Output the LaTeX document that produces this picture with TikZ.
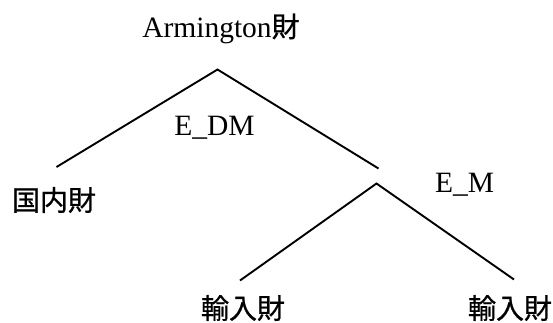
\documentclass[tikz,border=0pt]{standalone}
\usepackage{fontspec}
\setmainfont{Liberation Serif}
\newfontfamily\cjk[FakeBold=0.8]{Noto Sans CJK JP}
\begin{document}
\begin{tikzpicture}[x=1bp,y=-1bp,
  lbl/.style={inner sep=0pt,font=\fontsize{29.5bp}{33bp}\selectfont},
  cjklbl/.style={inner sep=0pt,font=\fontsize{28bp}{32bp}\selectfont\cjk},
  branch/.style={line width=1.9bp,line cap=butt,line join=miter}]
\useasboundingbox (0,0) rectangle (553,322);
\node[lbl,anchor=base] (top) at (221,37) {Armington{\fontsize{28bp}{32bp}\selectfont\cjk 財}};
\node[lbl,anchor=base] (edm) at (214.5,135) {E\_DM};
\node[lbl,anchor=base] (em) at (464.5,192) {E\_M};
\node[cjklbl] (dom) at (54,200) {国内財};
\node[cjklbl] (imp1) at (243,308) {輸入財};
\node[cjklbl] (imp2) at (510,308) {輸入財};
\coordinate (a1) at (217.5,69.5);
\coordinate (l1) at (56.5,167);
\coordinate (r1) at (378.5,168.5);
\coordinate (a2) at (376.5,183.5);
\coordinate (l2) at (240,280.5);
\coordinate (r2) at (514,279.5);
\draw[branch] (l1) -- (a1) -- (r1);
\draw[branch] (l2) -- (a2) -- (r2);
\end{tikzpicture}
\end{document}
